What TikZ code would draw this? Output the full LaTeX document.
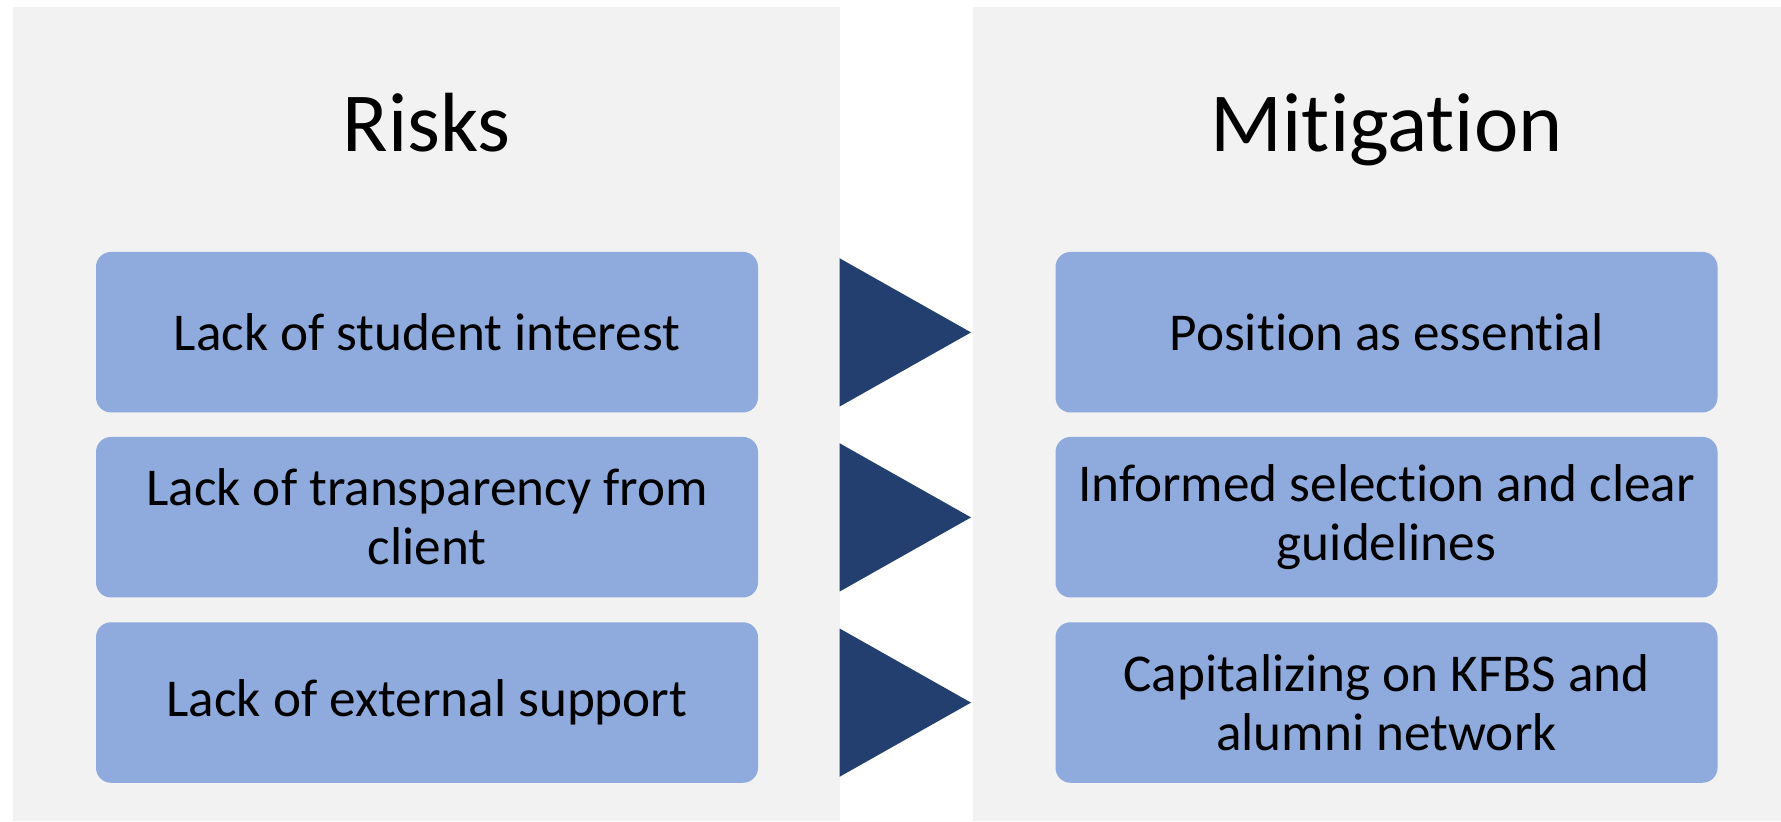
\documentclass[tikz,border=0pt]{standalone}
\usepackage{fontspec}
\setmainfont{Carlito}[RawFeature={-liga}]
\definecolor{panelc}{HTML}{F2F2F2}
\definecolor{boxc}{HTML}{8FAADC}
\definecolor{tric}{HTML}{233F70}
\begin{document}
\begin{tikzpicture}[x=0.5pt,y=-0.5pt,
  box/.style={fill=boxc, rounded corners=7.5pt, minimum width=331pt, minimum height=80.25pt, inner sep=0pt, align=center, font=\fontsize{26.6}{29.5}\selectfont},
  titletext/.style={font=\fontsize{42}{50}\selectfont, inner sep=0pt},
  tri/.style={fill=tric}]
\useasboundingbox (0,0) rectangle (1781,821);
\fill[panelc] (13,7) rectangle (840,821);
\fill[panelc] (973,7) rectangle (1781,821);
\node[titletext, anchor=base] (risks) at (426.7,151.7) {Risks};
\node[titletext, anchor=base] (mit) at (1386.7,151.7) {Mitigation};
\node[box] (r1) at (427,332.2) {Lack of student interest};
\node[box] (r2) at (427,517.2) {Lack of transparency from\\client};
\node[box] (r3) at (427,702.5) {Lack of external support};
\node[box] (m1) at (1386.5,332.2) {Position as essential};
\node[box] (m2) at (1386.5,517.2) {Informed selection and clear\\guidelines};
\node[box] (m3) at (1386.5,702.5) {Capitalizing on KFBS and\\alumni network};
\foreach \y in {332.4,517.4,702.6}{
  \fill[tri] (839.5,\y-74.2) -- (971,\y) -- (839.5,\y+74.2) -- cycle;
}
\end{tikzpicture}
\end{document}
